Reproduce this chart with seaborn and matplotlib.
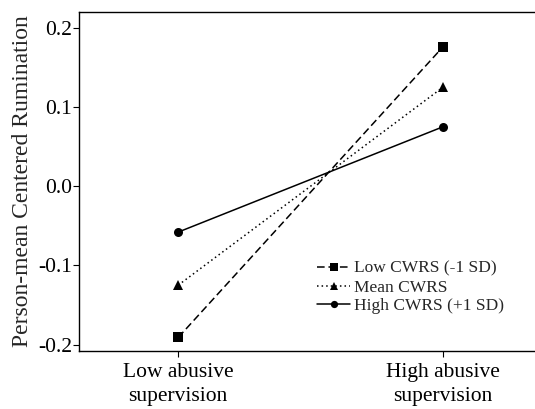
import pandas as pd
import matplotlib.pyplot as plt
import seaborn as sns

# data
conditions = ["Low abusive\nsupervision", "High abusive\nsupervision"]
groups = ["Low CWRS (-1 SD)", "Mean CWRS", "High CWRS (+1 SD)"]
low_cwrs = [-0.191, 0.176]
mean_cwrs = [-0.125, 0.125]
high_cwrs = [-0.058, 0.075]

rows = []
for g, vals in zip(groups, [low_cwrs, mean_cwrs, high_cwrs]):
    for i, v in enumerate(vals):
        rows.append({"x": i, "cond": conditions[i], "group": g, "y": v})
df = pd.DataFrame(rows)

sns.set_style('ticks')
plt.rcParams['font.family'] = ['Liberation Serif', 'DejaVu Serif']

fig = plt.figure(figsize=(5.35, 4.09), dpi=100)
ax = fig.add_axes([0.148, 0.142, 0.852, 0.829])

sns.lineplot(data=df, x="x", y="y", hue="group", style="group",
             hue_order=groups, style_order=groups,
             palette=["black"] * 3,
             markers={"Low CWRS (-1 SD)": "s", "Mean CWRS": "^", "High CWRS (+1 SD)": "o"},
             dashes={"Low CWRS (-1 SD)": (5, 2.5), "Mean CWRS": (1, 2), "High CWRS (+1 SD)": ""},
             markersize=6.5, markeredgewidth=0, linewidth=1.1, ax=ax)

ax.set_xlim(-0.374, 0.347 + 1)
ax.set_ylim(-0.208, 0.22)
ax.set_xticks([0, 1])
ax.set_xticklabels(conditions, fontsize=15.5, linespacing=1.3)
ax.set_yticks([-0.2, -0.1, 0.0, 0.1, 0.2])
ax.set_yticklabels(["-0.2", "-0.1", "0.0", "0.1", "0.2"], fontsize=15.5)
ax.set_xlabel("")
ax.set_ylabel("Person-mean Centered Rumination", fontsize=17, labelpad=4)
ax.tick_params(axis='both', length=4.5, width=0.8, colors='black')
ax.tick_params(axis='y', pad=0.5)
ax.tick_params(axis='x', pad=4.5)
ax.spines['right'].set_visible(False)
for s in ['left', 'top', 'bottom']:
    ax.spines[s].set_linewidth(1.0)
    ax.spines[s].set_color('black')

leg = ax.legend(loc='upper left', bbox_to_anchor=(0.522, 0.266), frameon=False,
                fontsize=12.5, handlelength=1.9, handletextpad=0.2, labelspacing=0.15,
                borderaxespad=0, borderpad=0, markerscale=0.8)

plt.savefig('out.png', dpi=100)
